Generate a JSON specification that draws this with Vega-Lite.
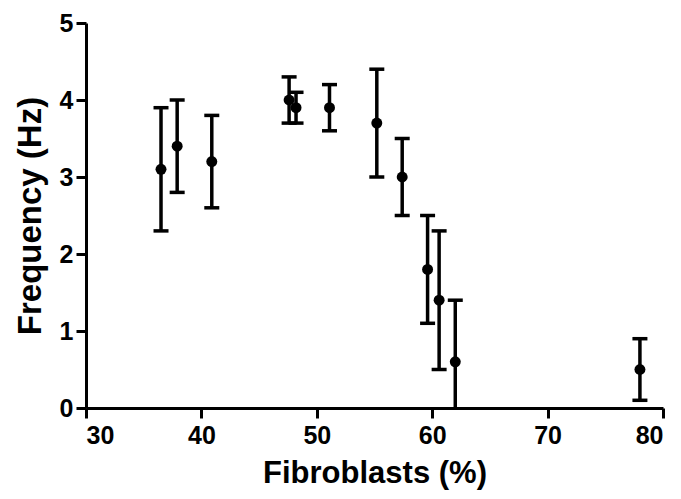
{
  "$schema": "https://vega.github.io/schema/vega-lite/v6.json",
  "width": 577,
  "height": 385,
  "autosize": "none",
  "padding": {"left": 86, "top": 23, "right": 18, "bottom": 91},
  "background": "white",
  "config": {
    "view": {"stroke": null},
    "font": "Liberation Sans",
    "axis": {
      "domainColor": "black",
      "domainWidth": 3,
      "tickColor": "black",
      "tickWidth": 3,
      "tickSize": 10,
      "grid": false,
      "labelFont": "Liberation Sans",
      "labelFontWeight": "bold",
      "labelFontSize": 25,
      "labelColor": "black",
      "titleFont": "Liberation Sans",
      "titleFontWeight": "bold",
      "titleColor": "black"
    }
  },
  "data": {
    "values": [
      {"fib": 36.5, "freq": 3.1, "lo": 2.3, "hi": 3.9},
      {"fib": 37.9, "freq": 3.4, "lo": 2.8, "hi": 4.0},
      {"fib": 40.9, "freq": 3.2, "lo": 2.6, "hi": 3.8},
      {"fib": 47.6, "freq": 4.0, "lo": 3.7, "hi": 4.3},
      {"fib": 48.2, "freq": 3.9, "lo": 3.7, "hi": 4.1},
      {"fib": 51.1, "freq": 3.9, "lo": 3.6, "hi": 4.2},
      {"fib": 55.2, "freq": 3.7, "lo": 3.0, "hi": 4.4},
      {"fib": 57.4, "freq": 3.0, "lo": 2.5, "hi": 3.5},
      {"fib": 59.6, "freq": 1.8, "lo": 1.1, "hi": 2.5},
      {"fib": 60.6, "freq": 1.4, "lo": 0.5, "hi": 2.3},
      {"fib": 62.0, "freq": 0.6, "lo": -0.2, "hi": 1.4},
      {"fib": 78.0, "freq": 0.5, "lo": 0.1, "hi": 0.9}
    ]
  },
  "encoding": {
    "x": {
      "field": "fib",
      "type": "quantitative",
      "scale": {"domain": [30, 80], "nice": false, "zero": false},
      "axis": {"values": [30, 40, 50, 60, 70, 80], "format": "d", "labelPadding": 5, "title": "Fibroblasts (%)", "titleFontSize": 31, "titlePadding": 10}
    }
  },
  "layer": [
    {
      "mark": {"type": "rule", "color": "black", "strokeWidth": 3.5, "clip": true},
      "encoding": {
        "y": {"field": "lo", "type": "quantitative", "scale": {"domain": [0, 5], "nice": false}, "axis": {"values": [0, 1, 2, 3, 4, 5], "format": "d", "labelPadding": 3, "title": "Frequency (Hz)", "titleFontSize": 33, "titlePadding": 12}},
        "y2": {"field": "hi"}
      }
    },
    {
      "mark": {"type": "tick", "orient": "horizontal", "color": "black", "size": 15, "thickness": 3.5, "opacity": 1, "clip": true},
      "encoding": {"y": {"field": "lo", "type": "quantitative"}}
    },
    {
      "mark": {"type": "tick", "orient": "horizontal", "color": "black", "size": 15, "thickness": 3.5, "opacity": 1, "clip": true},
      "encoding": {"y": {"field": "hi", "type": "quantitative"}}
    },
    {
      "mark": {"type": "point", "shape": "circle", "filled": true, "color": "black", "size": 120, "opacity": 1},
      "encoding": {"y": {"field": "freq", "type": "quantitative"}}
    }
  ]
}
